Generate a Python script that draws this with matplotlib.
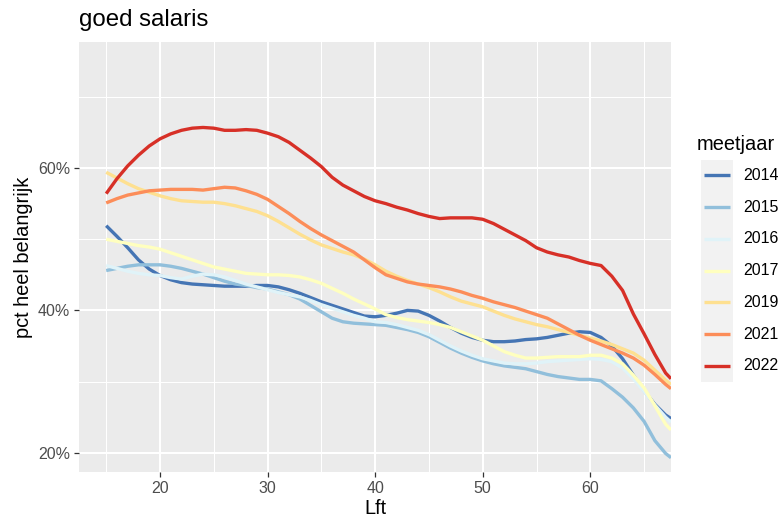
import matplotlib.pyplot as plt
from matplotlib.lines import Line2D
from matplotlib.patches import Rectangle
from matplotlib.ticker import FuncFormatter, MultipleLocator

plt.rcParams['font.family'] = ['Liberation Sans', 'DejaVu Sans']

# ages (Lft)
lft = list(range(15, 68)) + [67.5]

years = ["2014", "2015", "2016", "2017", "2019", "2021", "2022"]
colors = ["#4575B4", "#91BFDB", "#E0F3F8", "#FFFFBF", "#FEE090", "#FC8D59", "#D73027"]

# pct heel belangrijk per meetjaar
y2014 = [51.9, 50.4, 48.8, 47.1, 45.8, 44.9, 44.3, 43.9, 43.7, 43.6,
         43.5, 43.4, 43.4, 43.4, 43.5, 43.5, 43.3, 42.9, 42.4, 41.8,
         41.2, 40.7, 40.2, 39.7, 39.2, 39.1, 39.3, 39.6, 40.0, 39.9,
         39.3, 38.5, 37.6, 36.8, 36.2, 35.8, 35.6, 35.6, 35.7, 35.9,
         36.0, 36.2, 36.5, 36.8, 37.0, 36.9, 36.2, 35.0, 33.2, 30.9,
         28.7, 26.8, 25.3, 24.8]
y2015 = [45.6, 45.9, 46.2, 46.4, 46.4, 46.4, 46.2, 45.9, 45.5, 45.1,
         44.6, 44.1, 43.7, 43.5, 43.2, 43.0, 42.6, 42.2, 41.6, 40.7,
         39.8, 38.9, 38.4, 38.2, 38.1, 38.0, 37.9, 37.6, 37.3, 36.9,
         36.3, 35.5, 34.7, 34.0, 33.4, 32.9, 32.5, 32.2, 32.0, 31.8,
         31.4, 31.0, 30.7, 30.5, 30.3, 30.3, 30.1, 29.0, 27.8, 26.3,
         24.4, 21.7, 19.9, 19.3]
y2016 = [46.3, 45.9, 45.5, 45.2, 45.0, 44.9, 44.6, 44.4, 44.8, 45.1,
         45.0, 44.7, 44.2, 43.7, 43.3, 42.9, 42.5, 42.2, 41.9, 41.4,
         40.8, 40.3, 39.8, 39.3, 38.9, 38.4, 38.3, 38.0, 37.6, 37.2,
         36.6, 35.8, 35.0, 34.3, 33.7, 33.2, 32.9, 32.6, 32.5, 32.5,
         32.6, 32.8, 32.9, 33.0, 33.1, 33.2, 33.1, 32.8, 31.9, 30.4,
         28.6, 26.7, 25.0, 24.3]
y2017 = [50.0, 49.7, 49.4, 49.1, 48.9, 48.6, 48.1, 47.6, 47.1, 46.6,
         46.1, 45.8, 45.5, 45.2, 45.1, 45.0, 45.0, 44.9, 44.7, 44.3,
         43.8, 43.1, 42.4, 41.6, 40.9, 40.2, 39.4, 39.0, 38.7, 38.5,
         38.3, 38.0, 37.6, 37.0, 36.4, 35.8, 35.0, 34.2, 33.7, 33.3,
         33.3, 33.4, 33.5, 33.5, 33.5, 33.7, 33.7, 33.3, 32.5, 30.9,
         29.1, 26.6, 24.0, 23.2]
y2019 = [59.4, 58.6, 57.8, 57.1, 56.6, 56.1, 55.7, 55.4, 55.3, 55.2,
         55.2, 55.0, 54.7, 54.3, 53.9, 53.3, 52.5, 51.6, 50.7, 49.9,
         49.2, 48.7, 48.2, 47.8, 47.2, 46.4, 45.5, 44.8, 44.2, 43.7,
         43.2, 42.6, 41.9, 41.3, 40.9, 40.5, 39.9, 39.3, 38.8, 38.4,
         38.0, 37.7, 37.3, 36.9, 36.5, 36.1, 35.7, 35.2, 34.6, 34.0,
         33.0, 31.6, 30.2, 29.6]
y2021 = [55.1, 55.7, 56.2, 56.5, 56.8, 56.9, 57.0, 57.0, 57.0, 56.9,
         57.1, 57.3, 57.2, 56.8, 56.3, 55.6, 54.6, 53.6, 52.5, 51.5,
         50.6, 49.8, 49.0, 48.2, 47.1, 46.0, 45.0, 44.5, 44.0, 43.7,
         43.5, 43.3, 43.0, 42.6, 42.1, 41.7, 41.2, 40.8, 40.4, 39.9,
         39.4, 38.9, 38.1, 37.3, 36.5, 35.8, 35.2, 34.6, 34.0, 33.3,
         32.3, 31.0, 29.6, 29.0]
y2022 = [56.4, 58.5, 60.3, 61.8, 63.1, 64.1, 64.8, 65.3, 65.6, 65.7,
         65.6, 65.3, 65.3, 65.4, 65.3, 64.9, 64.4, 63.6, 62.5, 61.4,
         60.2, 58.7, 57.6, 56.8, 56.0, 55.4, 55.0, 54.5, 54.1, 53.6,
         53.2, 52.9, 53.0, 53.0, 53.0, 52.8, 52.2, 51.4, 50.6, 49.8,
         48.8, 48.2, 47.8, 47.5, 47.0, 46.6, 46.3, 44.8, 42.8, 39.5,
         36.7, 33.8, 31.2, 30.4]
series = [y2014, y2015, y2016, y2017, y2019, y2021, y2022]

W, H = 783, 521
fig = plt.figure(figsize=(W / 100, H / 100), dpi=100)
left, right, top, bottom = 79.3, 671, 41.7, 472.3
ax = fig.add_axes([left / W, 1 - bottom / H, (right - left) / W, (bottom - top) / H])
ax.set_facecolor("#EBEBEB")
for s in ax.spines.values():
    s.set_visible(False)

for vals, col in zip(series, colors):
    ax.plot(lft, vals, color=col, lw=2.4, solid_capstyle='butt')

ax.set_xlim(12.5, 67.5)
ax.set_ylim(17.25, 77.75)
ax.xaxis.set_major_locator(MultipleLocator(10))
ax.xaxis.set_minor_locator(MultipleLocator(5))
ax.set_yticks([20, 40, 60])
ax.set_yticks([30, 50, 70], minor=True)
ax.yaxis.set_major_formatter(FuncFormatter(lambda v, p: f"{v:.0f}%"))
ax.grid(which='major', color='white', lw=1.45)
ax.grid(which='minor', color='white', lw=0.75)
ax.set_axisbelow(True)
ax.tick_params(which='major', length=3.6, width=0.9, color='#333333',
               labelcolor='#4D4D4D', labelsize=11.5, pad=3)
ax.tick_params(which='minor', length=0)

ax.set_xlabel("Lft", fontsize=14.4, labelpad=2)
ax.set_ylabel("pct heel belangrijk", fontsize=14.4, labelpad=3.5)
fig.text(left / W, 1 - 26 / H, "goed salaris", fontsize=17.3, ha='left', va='baseline')

# legend
fig.text(697 / W, 1 - 150 / H, "meetjaar", fontsize=14.4, ha='left', va='baseline')
key_top = 159.5
step = 31.75
fig.add_artist(Rectangle((700.7 / W, 1 - (key_top + 7 * step) / H), 32 / W, 7 * step / H,
                         transform=fig.transFigure, facecolor="#F2F2F2", edgecolor='none'))
for i, (yr, col) in enumerate(zip(years, colors)):
    yc = 1 - (key_top + step * (i + 0.5)) / H
    fig.add_artist(Line2D([704 / W, 730 / W], [yc, yc], transform=fig.transFigure,
                          color=col, lw=2.4, solid_capstyle='butt'))
    fig.text(743 / W, yc, yr, fontsize=11.5, ha='left', va='center')

fig.savefig("out.png", dpi=100)
